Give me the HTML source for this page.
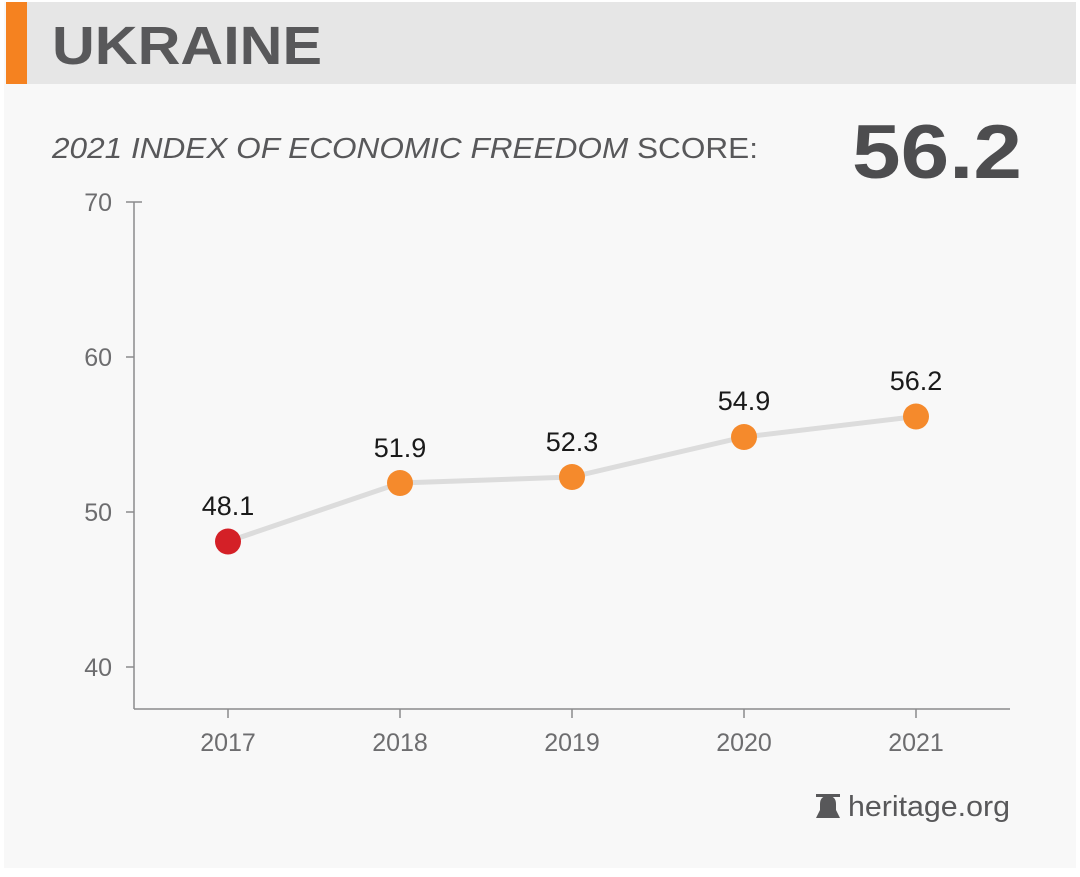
<!DOCTYPE html>
<html><head><meta charset="utf-8"><style>
body{margin:0;width:1080px;height:872px;background:#fff;overflow:hidden}
</style></head><body>
<svg width="1080" height="872" xmlns="http://www.w3.org/2000/svg" font-family="Liberation Sans, sans-serif">
<rect x="4" y="2" width="1072" height="866" fill="#f8f8f8"/>
<rect x="6" y="2" width="1070" height="82" fill="#e6e6e6"/>
<rect x="6" y="2" width="21" height="82" fill="#f58220"/>
<text x="52" y="64" font-size="54" font-weight="bold" fill="#58585a" textLength="270" lengthAdjust="spacingAndGlyphs">UKRAINE</text>
<text x="52" y="158" font-size="29" fill="#58585a" textLength="706" lengthAdjust="spacingAndGlyphs"><tspan font-style="italic">2021 INDEX OF ECONOMIC FREEDOM</tspan> SCORE:</text>
<text x="852" y="178" font-size="76" font-weight="bold" fill="#4d4d4f" textLength="170" lengthAdjust="spacingAndGlyphs">56.2</text>
<g stroke="#8a8a8c" stroke-width="1.5" fill="none">
<line x1="134" y1="202" x2="134" y2="709"/>
<line x1="134" y1="709" x2="1010" y2="709"/>
<line x1="126" y1="202" x2="142" y2="202"/>
<line x1="126" y1="357" x2="134" y2="357"/>
<line x1="126" y1="512" x2="134" y2="512"/>
<line x1="126" y1="667" x2="134" y2="667"/>
<line x1="228" y1="709" x2="228" y2="718"/>
<line x1="400" y1="709" x2="400" y2="718"/>
<line x1="572" y1="709" x2="572" y2="718"/>
<line x1="744" y1="709" x2="744" y2="718"/>
<line x1="916" y1="709" x2="916" y2="718"/>
</g>
<g font-size="25" fill="#6d6d6f" text-anchor="end">
<text x="112" y="211">70</text><text x="112" y="366">60</text><text x="112" y="521">50</text><text x="112" y="676">40</text>
</g>
<g font-size="25" fill="#6d6d6f" text-anchor="middle">
<text x="228" y="751">2017</text><text x="400" y="751">2018</text><text x="572" y="751">2019</text><text x="744" y="751">2020</text><text x="916" y="751">2021</text>
</g>
<polyline points="228,541.5 400,483 572,477 744,437 916,416.5" fill="none" stroke="#dcdcdc" stroke-width="5"/>
<circle cx="228" cy="541.5" r="13" fill="#d42027"/>
<circle cx="400" cy="483" r="13" fill="#f58a2c"/>
<circle cx="572" cy="477" r="13" fill="#f58a2c"/>
<circle cx="744" cy="437" r="13" fill="#f58a2c"/>
<circle cx="916" cy="416.5" r="13" fill="#f58a2c"/>
<g font-size="27" fill="#1a1a1a" text-anchor="middle">
<text x="228" y="515">48.1</text><text x="400" y="457">51.9</text><text x="572" y="451">52.3</text><text x="744" y="410">54.9</text><text x="916" y="390">56.2</text>
</g>
<path d="M816 818 L820 810 V804 Q820 796 828 796 Q836 796 836 804 V810 L840 818 Z M816 794 h24 v3 h-24z" fill="#58585a"/>
<text x="848" y="816" font-size="29" fill="#58585a" textLength="162" lengthAdjust="spacingAndGlyphs">heritage.org</text>
</svg>
</body></html>
